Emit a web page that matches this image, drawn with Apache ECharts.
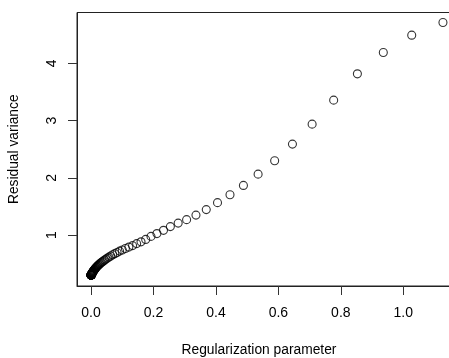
<!DOCTYPE html>
<html>
<head>
<meta charset="utf-8">
<script src="https://cdn.jsdelivr.net/npm/echarts@6/dist/echarts.min.js"></script>
<style>
  html, body { margin: 0; padding: 0; background: #fff; }
  #chart { width: 449px; height: 358px; }
</style>
</head>
<body>
<div id="chart"></div>
<script>
// regularization parameter (lambda), ascending
const lambda = [
  0.00011, 0.00013, 0.00014, 0.00016, 0.00017, 0.00019, 0.00021, 0.00023, 0.00025, 0.00027,
  0.00030, 0.00033, 0.00036, 0.00040, 0.00043, 0.00048, 0.00052, 0.00057, 0.00063, 0.00069,
  0.00075, 0.00083, 0.0009, 0.0010, 0.0011, 0.0012, 0.0013, 0.0014, 0.0016, 0.0017,
  0.0019, 0.0020, 0.0022, 0.0025, 0.0027, 0.0030, 0.0032, 0.0036, 0.0039, 0.0043,
  0.0047, 0.0051, 0.0056, 0.0062, 0.0068, 0.0074, 0.0082, 0.0090, 0.0098, 0.0108,
  0.0118, 0.0130, 0.0143, 0.0156, 0.0172, 0.0188, 0.0207, 0.0227, 0.0249, 0.0273,
  0.0300, 0.0329, 0.0361, 0.0396, 0.0435, 0.0477, 0.0524, 0.0575, 0.0631, 0.0692,
  0.0759, 0.0833, 0.0914, 0.100, 0.110, 0.121, 0.133, 0.146, 0.160, 0.175,
  0.192, 0.211, 0.232, 0.254, 0.279, 0.306, 0.336, 0.369, 0.405, 0.445,
  0.488, 0.535, 0.588, 0.645, 0.708, 0.777, 0.853, 0.936, 1.027, 1.127
];
// residual variance for each lambda
const resVar = [
  0.300, 0.300, 0.300, 0.301, 0.301, 0.301, 0.302, 0.302, 0.302, 0.303,
  0.303, 0.303, 0.303, 0.304, 0.304, 0.304, 0.304, 0.304, 0.304, 0.304,
  0.305, 0.305, 0.305, 0.305, 0.306, 0.307, 0.308, 0.310, 0.311, 0.313,
  0.315, 0.317, 0.319, 0.321, 0.324, 0.327, 0.330, 0.333, 0.337, 0.341,
  0.345, 0.349, 0.354, 0.359, 0.364, 0.370, 0.376, 0.382, 0.389, 0.396,
  0.404, 0.412, 0.421, 0.430, 0.440, 0.449, 0.459, 0.470, 0.482, 0.494,
  0.507, 0.520, 0.533, 0.548, 0.563, 0.580, 0.597, 0.615, 0.635, 0.655,
  0.675, 0.695, 0.720, 0.740, 0.765, 0.790, 0.816, 0.851, 0.882, 0.924,
  0.977, 1.026, 1.083, 1.148, 1.209, 1.270, 1.349, 1.445, 1.567, 1.704,
  1.868, 2.065, 2.298, 2.590, 2.939, 3.358, 3.818, 4.192, 4.494, 4.716
];
const xTicks = [0, 0.2, 0.4, 0.6, 0.8, 1.0];
const yTicks = [1, 2, 3, 4];

const font = 'Liberation Sans, Arial, Helvetica, sans-serif';
const points = lambda.map((x, i) => [x, resVar[i]]);

const chart = echarts.init(document.getElementById('chart'));
chart.setOption({
  animation: false,
  backgroundColor: '#fff',
  grid: {
    left: 77,
    top: 12.5,
    width: 380,
    height: 273.5,
    outerBoundsMode: 'none',
    containLabel: false,
    show: true,
    borderColor: '#222',
    borderWidth: 1,
    backgroundColor: 'transparent'
  },
  xAxis: {
    type: 'value',
    min: -0.045,
    max: 1.172,
    name: 'Regularization parameter',
    nameLocation: 'middle',
    nameGap: 57,
    nameTextStyle: {color: '#000', fontSize: 13.8, fontFamily: font, padding: [0, 16, 0, 0]},
    axisLine: {show: true, onZero: false, lineStyle: {color: '#222', width: 1}},
    axisTick: {show: true, length: 9, customValues: xTicks, lineStyle: {color: '#333', width: 1}},
    axisLabel: {
      customValues: xTicks,
      margin: 20,
      color: '#000',
      fontSize: 14,
      fontFamily: font,
      formatter: v => v.toFixed(1)
    },
    splitLine: {show: false}
  },
  yAxis: {
    type: 'value',
    min: 0.11,
    max: 4.89,
    name: 'Residual variance',
    nameLocation: 'middle',
    nameRotate: 90,
    nameGap: 56,
    nameTextStyle: {color: '#000', fontSize: 13.8, fontFamily: font},
    axisLine: {show: true, onZero: false, lineStyle: {color: '#222', width: 1}},
    axisTick: {show: true, length: 9, customValues: yTicks, lineStyle: {color: '#333', width: 1}},
    axisLabel: {
      customValues: yTicks,
      rotate: 90,
      margin: 18,
      color: '#000',
      fontSize: 14,
      fontFamily: font
    },
    splitLine: {show: false}
  },
  series: [{
    type: 'scatter',
    data: points,
    symbol: 'circle',
    symbolSize: 8,
    itemStyle: {color: 'rgba(0,0,0,0)', borderColor: '#000', borderWidth: 1.1},
    emphasis: {disabled: true}
  }]
});
</script>
</body>
</html>
